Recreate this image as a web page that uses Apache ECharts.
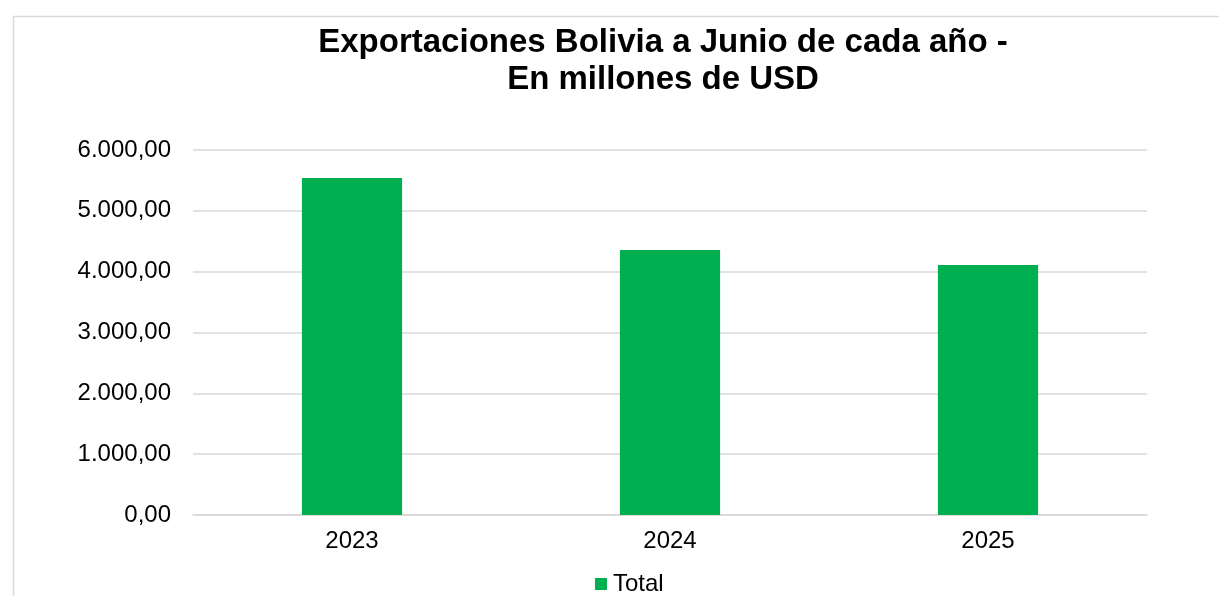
<!DOCTYPE html>
<html><head><meta charset="utf-8">
<script src="https://cdn.jsdelivr.net/npm/echarts@6/dist/echarts.min.js"></script>
<style>html,body{margin:0;padding:0;background:#fff}#c{width:1219px;height:596px}</style>
</head><body><div id="c"></div>
<script>
const categories = ['2023', '2024', '2025'];
const totalValues = [5540, 4356, 4110];
const yTicks = [0, 1000, 2000, 3000, 4000, 5000, 6000];

function fmt(v) {
  const s = Math.round(v).toString().replace(/\B(?=(\d{3})+(?!\d))/g, '.');
  return s + ',00';
}

const chart = echarts.init(document.getElementById('c'));
chart.setOption({
  animation: false,
  backgroundColor: '#fff',
  graphic: [{
    type: 'rect', left: 11, top: 14,
    shape: { width: 1240, height: 620 },
    style: { fill: 'none', stroke: '#d9d9d9', lineWidth: 1.5 },
    silent: true
  }],
  title: {
    text: 'Exportaciones Bolivia a Junio de cada año -\nEn millones de USD',
    left: 658, textAlign: 'center', top: 19,
    textStyle: { fontFamily: 'Liberation Sans, Arial', fontWeight: 'bold', fontSize: 33, color: '#000', lineHeight: 37 }
  },
  legend: {
    data: ['Total'], top: 567, left: 590,
    itemWidth: 12, itemHeight: 12, itemGap: 4, icon: 'rect',
    textStyle: { fontFamily: 'Liberation Sans, Arial', fontSize: 24, color: '#000', padding: [0,0,0,1] }
  },
  grid: { left: 193, right: 72, top: 150, bottom: 81, containLabel: false },
  xAxis: {
    type: 'category', data: categories,
    axisLine: { lineStyle: { color: '#d9d9d9', width: 1.5 } },
    axisTick: { show: false },
    axisLabel: { fontFamily: 'Liberation Sans, Arial', fontSize: 24, color: '#000', margin: 14 }
  },
  yAxis: {
    type: 'value', min: yTicks[0], max: yTicks[yTicks.length - 1], interval: 1000,
    axisLine: { show: false }, axisTick: { show: false },
    splitLine: { lineStyle: { color: '#d9d9d9', width: 1.5 } },
    axisLabel: { formatter: fmt, fontFamily: 'Liberation Sans, Arial', fontSize: 24, color: '#000', margin: 22 }
  },
  series: [{
    name: 'Total', type: 'bar', data: totalValues, barWidth: '31.5%',
    itemStyle: { color: '#00B050' }
  }]
});
</script></body></html>
